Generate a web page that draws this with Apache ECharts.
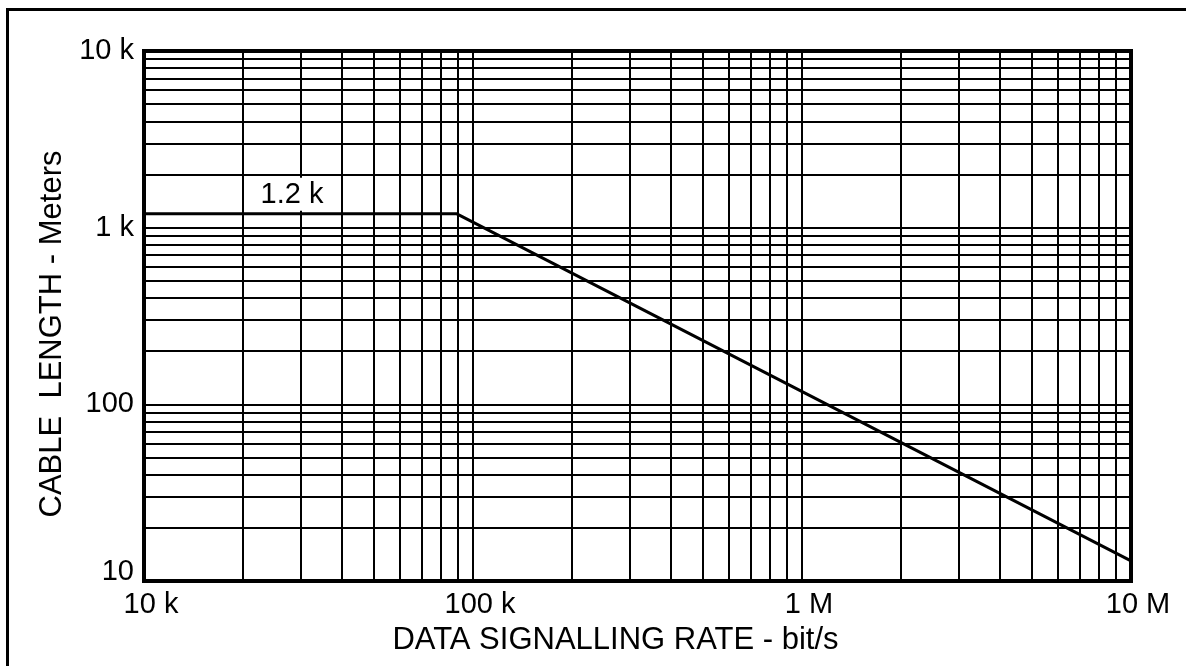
<!DOCTYPE html>
<html>
<head>
<meta charset="utf-8">
<script src="https://cdn.jsdelivr.net/npm/echarts@6/dist/echarts.min.js"></script>
<style>
html,body{margin:0;padding:0;background:#fff;}
#chart{width:1186px;height:666px;}
</style>
</head>
<body>
<div id="chart"></div>
<script>
// ---- data ----
var rateBps = [10000, 89000, 10000000];          // x: data signalling rate (bit/s)
var cableLengthM = [1200, 1200, 13];             // y: cable length (m)
var xTickValues = [10000, 100000, 1000000, 10000000];
var xTickLabels = ['10 k', '100 k', '1 M', '10 M'];
var yTickValues = [10, 100, 1000, 10000];
var yTickLabels = ['10', '100', '1 k', '10 k'];
var gridMultipliers = [1, 2, 3, 4, 5, 6, 7, 8, 9];
var xDecades = [10000, 100000, 1000000];
var yDecades = [10, 100, 1000];
var annotationText = '1.2 k';
var annotationAt = [30000, 1200];
var xAxisTitle = 'DATA SIGNALLING RATE - bit/s';
var yAxisTitle = 'CABLE  LENGTH - Meters';

// ---- build ----
var lineData = rateBps.map(function (x, i) { return [x, cableLengthM[i]]; });
var gridLines = [];
xDecades.forEach(function (d) {
  gridMultipliers.forEach(function (m) {
    if (d * m > xDecades[0]) gridLines.push({ xAxis: d * m });
  });
});
yDecades.forEach(function (d) {
  gridMultipliers.forEach(function (m) {
    if (d * m > yDecades[0]) gridLines.push({ yAxis: d * m });
  });
});
function findLabel(v, values, labels) {
  for (var i = 0; i < values.length; i++) {
    if (Math.abs(v - values[i]) / values[i] < 1e-6) return i;
  }
  return -1;
}
var FONT = '"Liberation Sans", Arial, sans-serif';

var chart = echarts.init(document.getElementById('chart'), null, { renderer: 'canvas' });
chart.setOption({
  backgroundColor: '#fff',
  animation: false,
  grid: {
    left: 144, top: 51, width: 987, height: 530,
    show: true, borderColor: '#000', borderWidth: 4, backgroundColor: 'transparent'
  },
  xAxis: {
    type: 'log', logBase: 10, min: 10000, max: 10000000,
    axisLine: { show: false }, axisTick: { show: false },
    splitLine: { show: false }, minorSplitLine: { show: false },
    axisLabel: {
      color: '#000', fontFamily: FONT, fontSize: 29, margin: 9,
      padding: [0, 0, 0, 14],
      formatter: function (v) {
        var i = findLabel(v, xTickValues, xTickLabels);
        return i < 0 ? '' : xTickLabels[i];
      }
    },
    name: xAxisTitle, nameLocation: 'middle', nameGap: 44,
    nameTextStyle: { color: '#000', fontFamily: FONT, fontSize: 31, padding: [0, 44, 0, 0] }
  },
  yAxis: {
    type: 'log', logBase: 10, min: 10, max: 10000,
    axisLine: { show: false }, axisTick: { show: false },
    splitLine: { show: false },
    axisLabel: {
      color: '#000', fontFamily: FONT, fontSize: 29, margin: 10,
      formatter: function (v) {
        var i = findLabel(v, yTickValues, yTickLabels);
        if (i < 0) return '';
        return i === 0 ? '{lo|' + yTickLabels[i] + '}' : yTickLabels[i];
      },
      rich: {
        lo: { color: '#000', fontFamily: FONT, fontSize: 29, padding: [0, 0, 18, 0] }
      }
    },
    name: yAxisTitle, nameLocation: 'middle', nameGap: 75,
    nameTextStyle: { color: '#000', fontFamily: FONT, fontSize: 31, padding: [0, 36, 0, 0] }
  },
  graphic: [{
    type: 'rect', silent: true,
    shape: { x: 7.5, y: 9.5, width: 1400, height: 900 },
    style: { fill: null, stroke: '#000', lineWidth: 3 }
  }],
  series: [{
    type: 'line',
    data: lineData,
    symbol: 'none',
    z: 3,
    lineStyle: { color: '#000', width: 3 },
    markLine: {
      silent: true, symbol: 'none', z: 1,
      label: { show: false },
      lineStyle: { color: '#000', width: 2, type: 'solid' },
      emphasis: { disabled: true },
      data: gridLines
    },
    markPoint: {
      silent: true, z: 6,
      symbol: 'circle', symbolSize: 0,
      data: [{ coord: annotationAt, value: annotationText }],
      label: {
        show: true, position: 'top', distance: 3, offset: [-9, 0],
        formatter: annotationText,
        color: '#000', fontFamily: FONT, fontSize: 29,
        backgroundColor: '#fff', padding: [3, 10, 1, 10]
      }
    }
  }]
});
</script>
</body>
</html>
